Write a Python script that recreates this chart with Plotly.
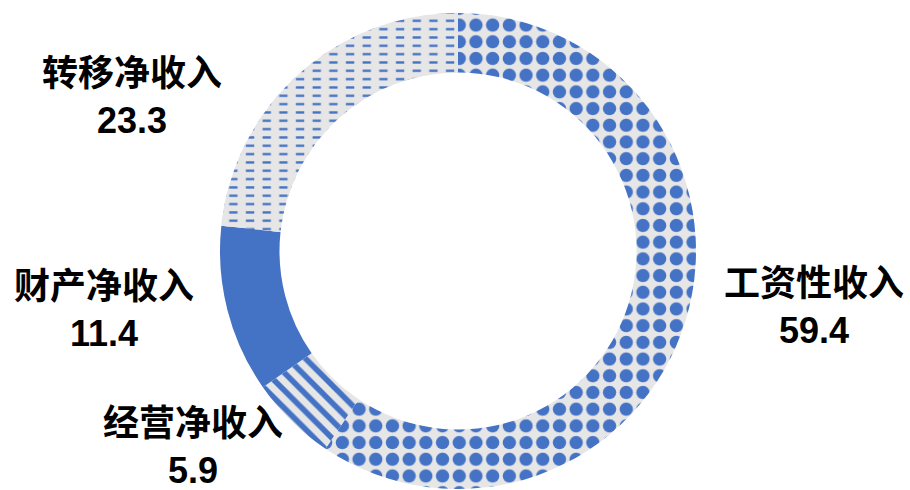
import plotly.graph_objects as go

categories = ["工资性收入", "经营净收入", "财产净收入", "转移净收入"]
values = [59.4, 5.9, 11.4, 23.3]
value_labels = ["59.4", "5.9", "11.4", "23.3"]

# label anchor positions (paper coords) for each category
label_x = [814 / 910, 193 / 910, 104 / 910, 132 / 910]
label_y = [1 - 307 / 490, 1 - 447 / 490, 1 - 310 / 490, 1 - 97 / 490]

BLUE = "#4472C4"
GRAY = "#E7E6E6"
CLEAR = "rgba(0,0,0,0)"

domain = dict(x=[220 / 910, 696 / 910], y=[1 / 490, 477 / 490])

# base donut
fig = go.Figure(
    go.Pie(
        labels=categories,
        values=values,
        sort=False,
        direction="clockwise",
        rotation=0,
        hole=0.75,
        textinfo="none",
        showlegend=False,
        hoverinfo="label+value",
        domain=domain,
        marker=dict(
            colors=[GRAY, GRAY, BLUE, GRAY],
            line=dict(width=0),
            pattern=dict(
                shape=[".", "\\", "", "-"],
                fgcolor=[BLUE, BLUE, BLUE, BLUE],
                bgcolor=[GRAY, GRAY, BLUE, GRAY],
                fgopacity=1,
                size=[16.7, 12.5, 8, 8.33],
                solidity=[0.5, 0.45, 0.5, 0.28],
                fillmode="overlay",
            ),
        ),
    )
)

# overlay that breaks the horizontal lines of the last slice into dashes
fig.add_trace(
    go.Pie(
        labels=categories,
        values=values,
        sort=False,
        direction="clockwise",
        rotation=0,
        hole=0.75,
        textinfo="none",
        showlegend=False,
        hoverinfo="skip",
        domain=domain,
        marker=dict(
            colors=[CLEAR, CLEAR, CLEAR, CLEAR],
            line=dict(width=0),
            pattern=dict(
                shape=["", "", "", "|"],
                fgcolor=[CLEAR, CLEAR, CLEAR, GRAY],
                bgcolor=[CLEAR, CLEAR, CLEAR, CLEAR],
                fgopacity=1,
                size=[8, 8, 8, 16.67],
                solidity=[0.1, 0.1, 0.1, 0.5],
                fillmode="replace",
            ),
        ),
    )
)

for cat, val, x, y in zip(categories, value_labels, label_x, label_y):
    fig.add_annotation(
        x=x, y=y, xref="paper", yref="paper",
        text=f"{cat}<br>{val}",
        showarrow=False, xanchor="center", yanchor="middle",
        align="center",
        font=dict(family="Liberation Sans, Noto Sans CJK SC", size=36, color="black", weight="bold"),
    )

fig.update_layout(
    width=910, height=490,
    margin=dict(l=0, r=0, t=0, b=0),
    paper_bgcolor="white",
    plot_bgcolor="white",
)

fig.write_html(
    "out.html",
    config={"displayModeBar": False},
    post_script="document.body.style.margin='0';",
)
